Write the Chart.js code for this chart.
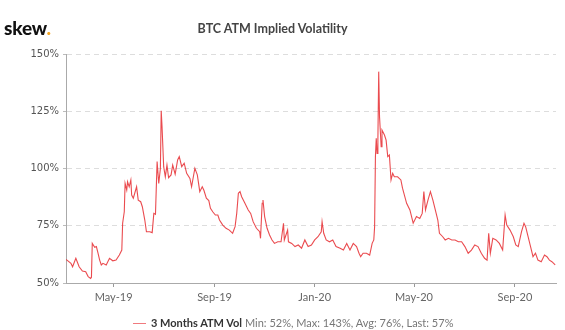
<!DOCTYPE html>
<html>
<head>
<meta charset="utf-8">
<script src="https://cdn.jsdelivr.net/npm/chart.js@4/dist/chart.umd.min.js"></script>
<style>
  html, body { margin: 0; padding: 0; background: #fff; }
  #wrap { position: relative; width: 565px; height: 330px; overflow: hidden; }
  #c { position: absolute; left: 0; top: 0; }
  #logo { position: absolute; left: 4px; top: 16px; font-family: Lato, "Open Sans", sans-serif; font-weight: 900; font-size: 19px; color: #111; letter-spacing: -0.2px; }
  #logo span { color: #f5a623; }
  #title { position: absolute; left: 0; width: 545px; top: 21px; text-align: center; font-family: Lato, sans-serif; font-weight: bold; font-size: 12.5px; color: #444; }
  #legend { position: absolute; left: 133px; top: 316px; font-family: Lato, sans-serif; font-size: 11px; color: #777; white-space: nowrap; }
  #legend .sw { display: inline-block; width: 13px; height: 0; border-top: 1.5px solid #f07a7e; vertical-align: middle; margin-right: 5px; position: relative; top: -1px; }
  #legend b { color: #333; }
</style>
</head>
<body>
<div id="wrap">
  <canvas id="c" width="565" height="330"></canvas>
  <div id="logo">skew<span>.</span></div>
  <div id="title">BTC ATM Implied Volatility</div>
  <div id="legend"><span class="sw"></span><b>3 Months ATM Vol</b> Min: 52%, Max: 143%, Avg: 76%, Last: 57%</div>
</div>
<script>
// Days since 2019-03-01
const days = [3,9,11,15,19,23,27,30,33,34,35,38,40,42,44,46,48,52,56,60,64,68,71,72,74,75,77,78,80,82,83,85,89,91,94,96,99,101,105,108,110,112,114,116,118,119,120,122,124,126,128,131,133,136,139,141,144,147,150,154,156,160,163,166,169,171,174,177,179,182,185,188,190,194,198,202,206,209,211,213,215,217,221,225,228,231,235,239,240,242,243,245,248,251,254,257,261,265,268,269,273,274,278,282,286,290,294,298,302,306,310,314,315,317,320,324,328,332,337,341,345,349,353,357,360,362,365,369,373,376,378,379,380,381,382,383,384,385,387,388,391,393,395,397,399,401,403,407,411,413,418,422,426,430,434,437,439,441,444,447,450,454,456,458,462,465,469,473,477,481,485,489,493,497,501,505,509,513,516,518,520,523,527,531,535,538,540,544,548,551,554,558,561,563,566,569,572,575,578,582,586,589,592,595,599];
const vol = [60.3,58.6,57.1,60.8,57.1,55.2,54.9,52.8,52.0,52.5,67.3,65.6,65.9,63.0,60.0,57.9,58.6,57.9,60.8,59.7,60.0,62.2,64.4,76.1,81.1,93.5,90.6,94.2,92.0,95.0,88.4,87.0,92.0,86.2,85.5,83.3,77.5,72.4,72.4,72.0,80.4,80.0,103.0,93.5,100.0,125.2,118.3,100.8,96.4,101.5,96.0,97.2,101.5,97.5,103.7,105.2,100.8,102.3,97.9,95.7,92.0,100.1,97.2,89.9,92.0,90.5,87.0,86.0,82.6,81.0,79.7,79.7,77.5,75.3,73.9,73.1,71.7,74.6,80.4,89.2,89.9,87.7,84.8,81.9,80.4,76.8,73.9,72.4,69.5,84.8,86.2,79.0,73.9,71.0,68.8,67.3,68.0,68.0,76.1,68.8,73.1,68.0,67.3,65.9,66.6,65.2,68.8,65.9,66.6,68.8,70.2,72.4,76.8,71.7,68.8,68.0,68.8,65.9,65.2,64.4,67.3,64.4,67.3,65.9,63.0,61.5,63.0,63.0,62.2,67.3,68.8,74.6,105.2,113.2,106.6,112.4,142.3,122.6,109.5,116.8,114.6,112.4,105.2,105.9,95.0,97.9,96.4,96.4,95.0,91.4,84.8,81.9,76.1,79.0,78.2,80.4,89.9,81.9,86.2,89.9,86.2,80.4,77.5,71.7,70.2,68.8,69.5,68.8,68.8,68.0,68.0,65.9,63.0,64.4,66.6,65.9,63.0,60.8,60.0,71.7,63.0,69.5,68.8,67.3,64.4,79.7,75.3,73.1,70.2,66.6,65.9,72.4,76.1,74.6,70.2,65.9,61.5,63.0,60.0,59.3,62.2,61.5,60.0,59.3,57.9];
const tickDays = [61, 184, 306, 427, 550];
const tickLabels = ['May-19', 'Sep-19', 'Jan-20', 'May-20', 'Sep-20'];
const yTicks = [50, 75, 100, 125, 150];

const points = days.map((d, i) => ({ x: d, y: vol[i] }));

new Chart(document.getElementById('c'), {
  type: 'line',
  data: {
    datasets: [{
      label: '3 Months ATM Vol',
      data: points,
      borderColor: 'rgba(232, 55, 60, 0.9)',
      borderWidth: 1.1,
      pointRadius: 0,
      tension: 0,
      fill: false
    }]
  },
  options: {
    responsive: false,
    animation: false,
    layout: { padding: { left: 0, right: 9, top: 54, bottom: 0 } },
    plugins: { legend: { display: false }, title: { display: false }, tooltip: { enabled: false } },
    scales: {
      x: {
        type: 'linear',
        min: 3,
        max: 600,
        afterFit: s => { s.height = 47; },
        afterBuildTicks: s => { s.ticks = tickDays.map(v => ({ value: v })); },
        ticks: {
          autoSkip: false,
          maxRotation: 0,
          padding: 4,
          color: '#666',
          font: { family: 'Lato', size: 11 },
          callback: (v) => { const i = tickDays.indexOf(v); return i >= 0 ? tickLabels[i] : ''; }
        },
        grid: { drawOnChartArea: false, drawTicks: true, tickLength: 4, tickColor: '#999' },
        border: { display: true, color: '#aaa', width: 1 }
      },
      y: {
        min: 50,
        max: 150,
        afterFit: s => { s.width = 66; },
        afterBuildTicks: s => { s.ticks = yTicks.map(v => ({ value: v })); },
        ticks: {
          color: '#555',
          padding: 4,
          font: { family: 'DejaVu Sans', size: 10 },
          callback: v => v + '%'
        },
        grid: { color: '#ddd', tickColor: '#bbb', tickLength: 3, tickBorderDash: [] },
        border: { display: true, color: '#aaa', width: 1, dash: [5, 4] }
      }
    }
  }
});
</script>
</body>
</html>
